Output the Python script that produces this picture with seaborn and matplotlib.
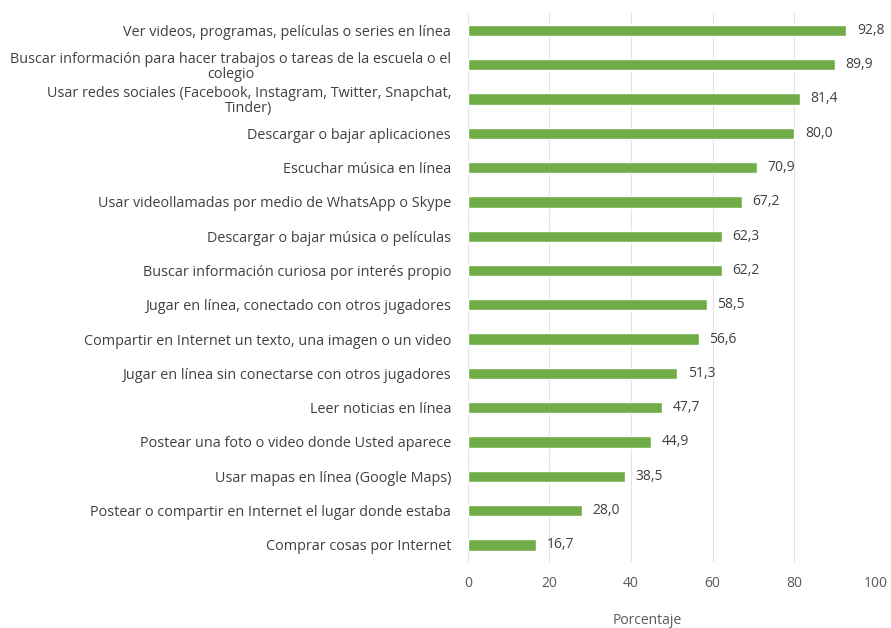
import matplotlib
matplotlib.use("Agg")
import matplotlib.pyplot as plt
import seaborn as sns
import pandas as pd

activities = [
    "Ver videos, programas, películas o series en línea",
    "Buscar información para hacer trabajos o tareas de la escuela o el\ncolegio",
    "Usar redes sociales (Facebook, Instagram, Twitter, Snapchat,\nTinder)",
    "Descargar o bajar aplicaciones",
    "Escuchar música en línea",
    "Usar videollamadas por medio de WhatsApp o Skype",
    "Descargar o bajar música o películas",
    "Buscar información curiosa por interés propio",
    "Jugar en línea, conectado con otros jugadores",
    "Compartir en Internet un texto, una imagen o un video",
    "Jugar en línea sin conectarse con otros jugadores",
    "Leer noticias en línea",
    "Postear una foto o video donde Usted aparece",
    "Usar mapas en línea (Google Maps)",
    "Postear o compartir en Internet el lugar donde estaba",
    "Comprar cosas por Internet",
]

percentages = [92.8, 89.9, 81.4, 80.0, 70.9, 67.2, 62.3, 62.2,
               58.5, 56.6, 51.3, 47.7, 44.9, 38.5, 28.0, 16.7]

x_ticks = [0, 20, 40, 60, 80, 100]

df = pd.DataFrame({
    "actividad": activities,
    "porcentaje": percentages
})

sns.set_theme(style="white")
plt.rcParams["font.family"] = ["Open Sans", "DejaVu Sans"]

text_color = "#595959"
bar_color = "#70AD47"

fig = plt.figure(figsize=(8.91, 6.28), dpi=100)
ax = fig.add_axes([0.525, 0.105, 0.458, 0.874])

sns.barplot(
    data=df,
    x="porcentaje",
    y="actividad",
    color=bar_color,
    saturation=1,
    width=0.33,
    ax=ax
)

# value labels with decimal comma
for patch, val in zip(ax.patches, percentages):
    ax.text(
        patch.get_width() + 2.6,
        patch.get_y() + patch.get_height() / 2,
        f"{val:.1f}".replace(".", ","),
        va="center",
        ha="left",
        fontsize=10,
        color="#404040"
    )

ax.set_xlim(0, 100)
ax.set_xticks(x_ticks)
ax.set_xticklabels([str(t) for t in x_ticks], fontsize=10, color=text_color)
ax.tick_params(axis="x", length=0, pad=10)
ax.tick_params(axis="y", length=0, pad=12)

for lbl in ax.get_yticklabels():
    lbl.set_fontsize(10.4)
    lbl.set_color("#404040")
    lbl.set_multialignment("center")
    lbl.set_linespacing(1.0)

ax.xaxis.grid(True, color="#E3E3E3", linewidth=0.8)
ax.set_axisbelow(True)
for s in ax.spines.values():
    s.set_visible(False)

ax.set_ylabel("")
ax.set_xlabel("")
fig.text(647 / 891, 1 - 620 / 628, "Porcentaje", ha="center", va="center",
         fontsize=10, color=text_color)

fig.savefig("out.png", dpi=100)
